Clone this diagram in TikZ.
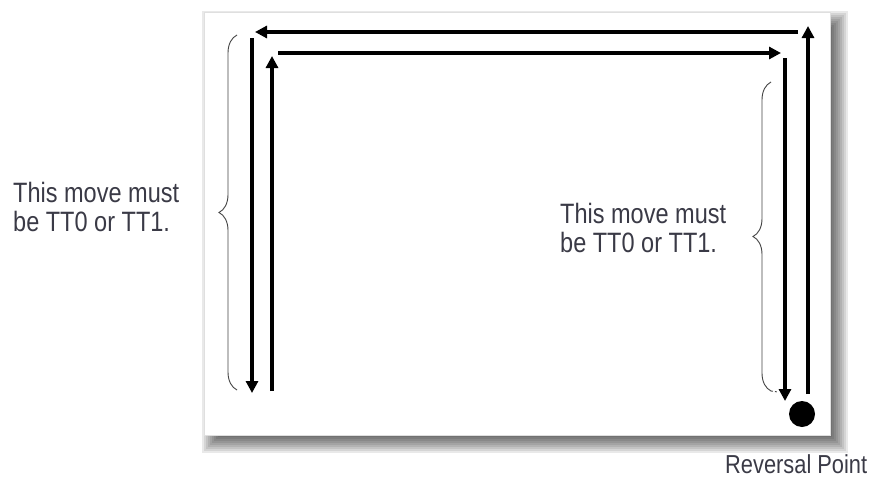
\documentclass[tikz,border=0pt]{standalone}
\usepackage{fontspec}
\setmainfont[FakeStretch=0.84]{Liberation Sans}
\usetikzlibrary{arrows.meta,decorations.pathreplacing}
\definecolor{txt}{HTML}{3A3A46}
\definecolor{bracegray}{HTML}{444444}
\tikzset{
  mv/.style={line width=4pt,-{Triangle[length=12pt,width=12pt]}},
  bracestyle/.style={draw=bracegray,line width=0.9pt,decorate,decoration={brace,amplitude=18pt}},
  label/.style={text=txt,font=\fontsize{28}{30}\selectfont,anchor=base west,inner sep=0pt,align=left}
}
\begin{document}
\begin{tikzpicture}[x=1pt,y=-1pt]
\useasboundingbox (0,0) rectangle (873,479);
% shadow
\foreach \i in {0,...,8}{
  \fill[black,opacity=0.085] (210-8+2*\i,19-8+2*\i) rectangle (840+8-2*\i,445+8-2*\i);
}
% panel
\fill[white] (204,12) rectangle (830,435);
\draw[gray!25,line width=0.6pt] (204,12) rectangle (830,435);
% coordinates
\coordinate (ORb) at (808,394);
\coordinate (ORt) at (808,26);
\coordinate (OTr) at (798,32);
\coordinate (OTl) at (255,32);
\coordinate (OLt) at (252,38);
\coordinate (OLb) at (252,393);
\coordinate (ILb) at (272,391);
\coordinate (ILt) at (272,56);
\coordinate (ITl) at (278,53);
\coordinate (ITr) at (781,53);
\coordinate (IRt) at (785,58);
\coordinate (IRb) at (785,401);
% arrows
\draw[mv] (ORb) -- (ORt);
\draw[mv] (OTr) -- (OTl);
\draw[mv] (OLt) -- (OLb);
\draw[mv] (ILb) -- (ILt);
\draw[mv] (ITl) -- (ITr);
\draw[mv] (IRt) -- (IRb);
% reversal point
\fill[black] (802,414) circle (13);
% braces
\coordinate (LBb) at (237,390);
\coordinate (LBt) at (237,35);
\coordinate (RBb) at (771,391);
\coordinate (RBt) at (771,82);
\draw[bracestyle] (LBb) -- (LBt);
\draw[bracestyle] (RBb) -- (RBt);
\coordinate (RBh) at (778,392);
\draw[bracegray,line width=0.9pt,dash pattern=on 2pt off 2pt] (RBb) -- (RBh);
% labels
\node[label] (lt1) at (13,202) {This move must};
\node[label] (lt2) at (13,231) {be TT0 or TT1.};
\node[label] (rt1) at (560,223) {This move must};
\node[label] (rt2) at (560,252) {be TT0 or TT1.};
\node[label,font=\fontsize{26}{28}\selectfont] (rp) at (725,473) {Reversal Point};
\end{tikzpicture}
\end{document}
